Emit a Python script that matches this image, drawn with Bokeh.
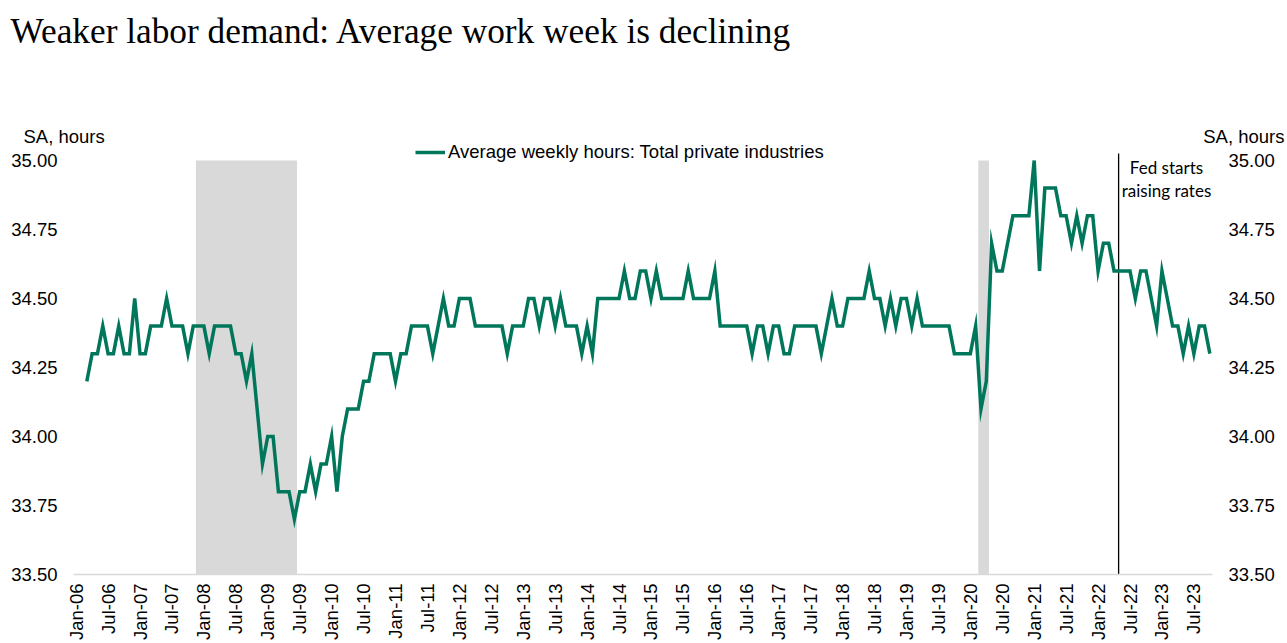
import math
from bokeh.plotting import figure
from bokeh.models import (Range1d, LinearAxis, FixedTicker, NumeralTickFormatter,
                          Label, Legend, LegendItem, ColumnDataSource)
from bokeh.embed import file_html
from bokeh.resources import INLINE

# ---------------- data ----------------
# month index: 0 = Jan-2006; series starts Mar-2006 (index 2), ends Oct-2023 (index 213)
first_month_index = 2
hours = [
    34.2, 34.3, 34.3, 34.4, 34.3, 34.3, 34.4, 34.3, 34.3, 34.5,              # Mar-06 .. Dec-06
    34.3, 34.3, 34.4, 34.4, 34.4, 34.5, 34.4, 34.4, 34.4, 34.3, 34.4, 34.4,  # 2007
    34.4, 34.3, 34.4, 34.4, 34.4, 34.4, 34.3, 34.3, 34.2, 34.3, 34.1, 33.9,  # 2008
    34.0, 34.0, 33.8, 33.8, 33.8, 33.7, 33.8, 33.8, 33.9, 33.8, 33.9, 33.9,  # 2009
    34.0, 33.8, 34.0, 34.1, 34.1, 34.1, 34.2, 34.2, 34.3, 34.3, 34.3, 34.3,  # 2010
    34.2, 34.3, 34.3, 34.4, 34.4, 34.4, 34.4, 34.3, 34.4, 34.5, 34.4, 34.4,  # 2011
    34.5, 34.5, 34.5, 34.4, 34.4, 34.4, 34.4, 34.4, 34.4, 34.3, 34.4, 34.4,  # 2012
    34.4, 34.5, 34.5, 34.4, 34.5, 34.5, 34.4, 34.5, 34.4, 34.4, 34.4, 34.3,  # 2013
    34.4, 34.3, 34.5, 34.5, 34.5, 34.5, 34.5, 34.6, 34.5, 34.5, 34.6, 34.6,  # 2014
    34.5, 34.6, 34.5, 34.5, 34.5, 34.5, 34.5, 34.6, 34.5, 34.5, 34.5, 34.5,  # 2015
    34.6, 34.4, 34.4, 34.4, 34.4, 34.4, 34.4, 34.3, 34.4, 34.4, 34.3, 34.4,  # 2016
    34.4, 34.3, 34.3, 34.4, 34.4, 34.4, 34.4, 34.4, 34.3, 34.4, 34.5, 34.4,  # 2017
    34.4, 34.5, 34.5, 34.5, 34.5, 34.6, 34.5, 34.5, 34.4, 34.5, 34.4, 34.5,  # 2018
    34.5, 34.4, 34.5, 34.4, 34.4, 34.4, 34.4, 34.4, 34.4, 34.3, 34.3, 34.3,  # 2019
    34.3, 34.4, 34.1, 34.2, 34.7, 34.6, 34.6, 34.7, 34.8, 34.8, 34.8, 34.8,  # 2020
    35.0, 34.6, 34.9, 34.9, 34.9, 34.8, 34.8, 34.7, 34.8, 34.7, 34.8, 34.8,  # 2021
    34.6, 34.7, 34.7, 34.6, 34.6, 34.6, 34.6, 34.5, 34.6, 34.6, 34.5, 34.4,  # 2022
    34.6, 34.5, 34.4, 34.4, 34.3, 34.4, 34.3, 34.4, 34.4, 34.3,              # Jan-23 .. Oct-23
]
month_index = list(range(first_month_index, first_month_index + len(hours)))

tick_positions = list(range(0, 211, 6))
tick_labels = [
    "Jan-06", "Jul-06", "Jan-07", "Jul-07", "Jan-08", "Jul-08", "Jan-09", "Jul-09",
    "Jan-10", "Jul-10", "Jan-11", "Jul-11", "Jan-12", "Jul-12", "Jan-13", "Jul-13",
    "Jan-14", "Jul-14", "Jan-15", "Jul-15", "Jan-16", "Jul-16", "Jan-17", "Jul-17",
    "Jan-18", "Jul-18", "Jan-19", "Jul-19", "Jan-20", "Jul-20", "Jan-21", "Jul-21",
    "Jan-22", "Jul-22", "Jan-23", "Jul-23",
]

# recessions (first and last month index, inclusive): Dec-07..Jun-09, Mar-20..Apr-20
recession_first = [23, 170]
recession_last = [41, 171]

fed_hike_position = 195.86
y_ticks = [33.5, 33.75, 34.0, 34.25, 34.5, 34.75, 35.0]

# ---------------- figure ----------------
LINE_COLOR = "#00775B"
SHADE = "#D9D9D9"
SANS = "Liberation Sans"
Y_MIN, Y_MAX = 33.5, 35.0
Y_TOP = 35.0725          # room above 35.00 for legend / annotation
X_LO, X_HI = -0.5, 213.5

W, H = 1287, 643
FL, FR, FT, FB = 73, 1212, 140, 574   # frame edges in pixels


def px_x(px):
    return X_LO + (px - FL) * (X_HI - X_LO) / (FR - FL)


def px_y(py):
    return Y_MIN + (FB - py) * (Y_TOP - Y_MIN) / (FB - FT)


p = figure(width=W, height=H, output_backend="svg", toolbar_location=None,
           x_range=Range1d(X_LO, X_HI), y_range=Range1d(Y_MIN, Y_TOP),
           min_border_left=FL, min_border_right=W - FR, min_border_top=FT,
           min_border_bottom=H - FB)
p.outline_line_color = None
p.xgrid.visible = False
p.ygrid.visible = False
p.background_fill_color = "white"
p.border_fill_color = "white"

# recession shading
shade_src = ColumnDataSource(dict(
    left=[s - 0.5 for s in recession_first],
    right=[e + 0.5 for e in recession_last],
    bottom=[Y_MIN] * len(recession_first),
    top=[Y_MAX] * len(recession_first),
))
p.quad(left="left", right="right", bottom="bottom", top="top", source=shade_src,
       fill_color=SHADE, line_color=None)

# Fed line
p.segment(x0=[fed_hike_position], y0=[Y_MIN], x1=[fed_hike_position], y1=[px_y(153)],
          line_color="black", line_width=1.3)

# series
src = ColumnDataSource(dict(x=month_index, y=hours))
line = p.line("x", "y", source=src, line_color=LINE_COLOR, line_width=3.5,
              line_join="miter")

# axes
xa = p.xaxis[0]
xa.ticker = FixedTicker(ticks=tick_positions)
xa.major_label_overrides = {t: l for t, l in zip(tick_positions, tick_labels)}
xa.major_label_orientation = math.pi / 2
xa.major_label_text_font = SANS
xa.major_label_text_font_size = "18.5px"
xa.major_label_text_color = "black"
xa.major_label_standoff = 9
xa.major_tick_out = 0
xa.major_tick_in = 0
xa.major_tick_line_color = None
xa.minor_tick_line_color = None
xa.axis_line_color = SHADE
xa.axis_line_width = 1.5

ya = p.yaxis[0]
ya.ticker = FixedTicker(ticks=y_ticks)
ya.formatter = NumeralTickFormatter(format="0.00")
ya.major_label_text_font = SANS
ya.major_label_text_font_size = "18.5px"
ya.major_label_text_color = "black"
ya.major_label_standoff = 16
ya.major_tick_out = 0
ya.major_tick_in = 0
ya.major_tick_line_color = None
ya.minor_tick_line_color = None
ya.axis_line_color = None

ra = LinearAxis(ticker=FixedTicker(ticks=y_ticks),
                formatter=NumeralTickFormatter(format="0.00"))
ra.major_label_text_font = SANS
ra.major_label_text_font_size = "18.5px"
ra.major_label_text_color = "black"
ra.major_label_standoff = 16
ra.major_tick_out = 0
ra.major_tick_in = 0
ra.major_tick_line_color = None
ra.minor_tick_line_color = None
ra.axis_line_color = None
p.add_layout(ra, "right")

# legend (inside the frame, near its top)
legend = Legend(items=[LegendItem(label="Average weekly hours: Total private industries",
                                  renderers=[line])],
                location=(415 - FL, FB - 162.5), orientation="horizontal",
                border_line_color=None, background_fill_alpha=0,
                padding=0, margin=0, spacing=0,
                glyph_width=30, glyph_height=20, label_standoff=3,
                label_text_font=SANS, label_text_font_size="18.5px",
                label_text_color="black")
p.add_layout(legend, "center")

# annotations inside the frame
for txt, py in (("Fed starts", 167), ("raising rates", 190)):
    p.add_layout(Label(x=px_x(1166), y=px_y(py), text=txt,
                       text_font="Lato", text_font_size="17px", text_color="black",
                       text_baseline="middle", text_align="center"))

# texts above the frame (side panel, so they are not clipped)
p.add_layout(Label(x=px_x(10), y=px_y(31),
                   text="Weaker labor demand: Average work week is declining",
                   text_font="Liberation Serif", text_font_size="35.3px",
                   text_color="black", text_baseline="alphabetic", text_align="left"),
             "above")
p.add_layout(Label(x=px_x(23), y=px_y(136), text="SA, hours",
                   text_font=SANS, text_font_size="18.5px", text_color="black",
                   text_baseline="middle", text_align="left"), "above")
p.add_layout(Label(x=px_x(1284), y=px_y(136), text="SA, hours",
                   text_font=SANS, text_font_size="18.5px", text_color="black",
                   text_baseline="middle", text_align="right"), "above")

open("out.html", "w").write(file_html(p, INLINE))
